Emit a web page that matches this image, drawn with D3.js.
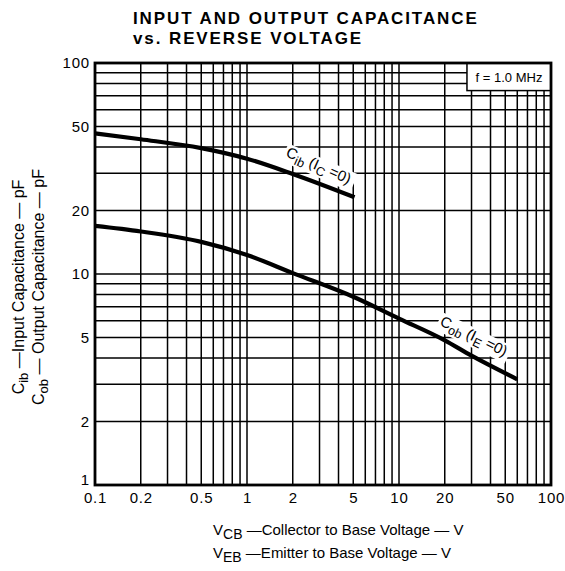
<!DOCTYPE html>
<html><head><meta charset="utf-8">
<script src="https://cdn.jsdelivr.net/npm/d3@7/dist/d3.min.js"></script>
<style>
body{margin:0;background:#fff;}
svg{display:block;font-family:"Liberation Sans",Arial,sans-serif;}
</style></head><body>
<svg id="c" width="565" height="571"></svg>
<script>
// ---- data ----
const xTickValues = [0.1, 0.2, 0.5, 1, 2, 5, 10, 20, 50, 100];
const xTickLabels = ["0.1", "0.2", "0.5", "1", "2", "5", "10", "20", "50", "100"];
const yTickValues = [1, 2, 5, 10, 20, 50, 100];
const yTickLabels = ["1", "2", "5", "10", "20", "50", "100"];
const cibV = [0.1, 0.2, 0.5, 1, 2, 5.1];
const cibC = [46.4, 43.5, 39.5, 35.2, 29.8, 23.1];
const cobV = [0.1, 0.2, 0.5, 1, 2, 5, 10, 20, 30, 60];
const cobC = [16.9, 15.9, 14.2, 12.3, 10.1, 7.8, 6.15, 4.85, 4.1, 3.17];

const svg = d3.select("#c");
const L = 95, R = 551, T = 63, B = 485;
const x = d3.scaleLog().domain([0.1, 100]).range([L, R]);
const y = d3.scaleLog().domain([1, 100]).range([B, T]);

// title
const title = svg.append("g").attr("font-size", 17).attr("font-weight", "bold").attr("letter-spacing", 1.9);
title.append("text").attr("x", 133).attr("y", 24).text("INPUT AND OUTPUT CAPACITANCE");
title.append("text").attr("x", 133).attr("y", 44).text("vs. REVERSE VOLTAGE");

// grid
const xGrid = [];
for (let d = 0.1; d < 100; d *= 10) for (let k = 1; k <= 9; k++) xGrid.push(+(d * k).toPrecision(3));
xGrid.push(100);
const yGrid = [];
for (let d = 1; d < 100; d *= 10) for (let k = 1; k <= 9; k++) yGrid.push(+(d * k).toPrecision(3));
yGrid.push(100);

const g = svg.append("g");
g.selectAll(".gx").data(xGrid).join("line")
  .attr("x1", d => x(d)).attr("x2", d => x(d)).attr("y1", T).attr("y2", B)
  .attr("stroke", "#000").attr("stroke-width", 1.5);
g.selectAll(".gy").data(yGrid).join("line")
  .attr("y1", d => y(d)).attr("y2", d => y(d)).attr("x1", L).attr("x2", R)
  .attr("stroke", "#000").attr("stroke-width", 1.5);

// frequency box
const bx0 = x(28), by1 = y(74);
g.append("rect").attr("x", bx0).attr("y", T).attr("width", R - bx0).attr("height", by1 - T)
  .attr("fill", "#fff").attr("stroke", "#000").attr("stroke-width", 1.5);
g.append("text").attr("x", (bx0 + R) / 2).attr("y", (T + by1) / 2 + 5)
  .attr("text-anchor", "middle").attr("font-size", 13).text("f = 1.0 MHz");

// frame
g.append("rect").attr("x", L).attr("y", T).attr("width", R - L).attr("height", B - T)
  .attr("fill", "none").attr("stroke", "#000").attr("stroke-width", 2.8);

// axes
const xAxis = d3.axisBottom(x).tickValues(xTickValues).tickFormat((d, i) => xTickLabels[i]).tickSize(0).tickPadding(7);
const xa = svg.append("g").attr("transform", `translate(0,${B})`).call(xAxis);
const yAxis = d3.axisLeft(y).tickValues(yTickValues).tickFormat((d, i) => yTickLabels[i]).tickSize(0).tickPadding(5);
const ya = svg.append("g").attr("transform", `translate(${L},0)`).call(yAxis);
[xa, ya].forEach(a => {
  a.select(".domain").remove();
  a.selectAll("text").attr("font-size", 15).attr("fill", "#000").attr("letter-spacing", 0.8)
    .attr("font-family", "'Liberation Sans',Arial,sans-serif");
});
ya.selectAll("text").filter(d => d === 1).attr("dy", "-0.05em");

// curves
const line = d3.line().x(d => x(d[0])).y(d => y(d[1])).curve(d3.curveMonotoneX);
svg.append("path").datum(cibV.map((v, i) => [v, cibC[i]])).attr("d", line)
  .attr("fill", "none").attr("stroke", "#000").attr("stroke-width", 4.2);
svg.append("path").datum(cobV.map((v, i) => [v, cobC[i]])).attr("d", line)
  .attr("fill", "none").attr("stroke", "#000").attr("stroke-width", 4.2);

// curve labels
function curveLabel(xv, yv, angle, sub1, sub2) {
  const t = svg.append("text").attr("font-size", 15)
    .attr("transform", `translate(${x(xv)},${y(yv)}) rotate(${angle})`).attr("fill", "#000");
  t.append("tspan").text("C");
  t.append("tspan").attr("dy", 4).attr("font-size", 12.5).text(sub1);
  t.append("tspan").attr("dy", -4).text(" (I");
  t.append("tspan").attr("dy", 4).attr("font-size", 12.5).text(sub2);
  t.append("tspan").attr("dy", -4).text(" =0)");
}
function labelBg(xv, yv, angle, w) {
  svg.append("rect").attr("x", -2).attr("y", -13).attr("width", w).attr("height", 19)
    .attr("fill", "#fff")
    .attr("transform", `translate(${x(xv)},${y(yv)}) rotate(${angle})`);
}
labelBg(1.78, 36.2, 24, 76);
curveLabel(1.78, 36.2, 24, "ib", "C");
labelBg(18.3, 5.75, 26, 78);
curveLabel(18.3, 5.75, 26, "ob", "E");

// y axis title
const yt = svg.append("text").attr("transform", "translate(24,287) rotate(-90)")
  .attr("text-anchor", "middle").attr("font-size", 16);
yt.append("tspan").text("C");
yt.append("tspan").attr("dy", 4).attr("font-size", 13).text("ib");
yt.append("tspan").attr("dy", -4).text(" \u2014Input  Capacitance \u2014 pF");
const yt2 = svg.append("text").attr("transform", "translate(44,287) rotate(-90)")
  .attr("text-anchor", "middle").attr("font-size", 16);
yt2.append("tspan").text("C");
yt2.append("tspan").attr("dy", 4).attr("font-size", 13).text("ob");
yt2.append("tspan").attr("dy", -4).text(" \u2014 Output  Capacitance \u2014 pF");

// x axis title
function xTitle(yy, sub, rest) {
  const t = svg.append("text").attr("x", 213).attr("y", yy).attr("font-size", 15);
  t.append("tspan").text("V");
  t.append("tspan").attr("dy", 4).attr("font-size", 14).text(sub);
  t.append("tspan").attr("dy", -4).text(rest);
}
xTitle(535, "CB", " \u2014Collector  to  Base  Voltage \u2014 V");
xTitle(558, "EB", " \u2014Emitter  to  Base  Voltage \u2014 V");
</script>
</body></html>
